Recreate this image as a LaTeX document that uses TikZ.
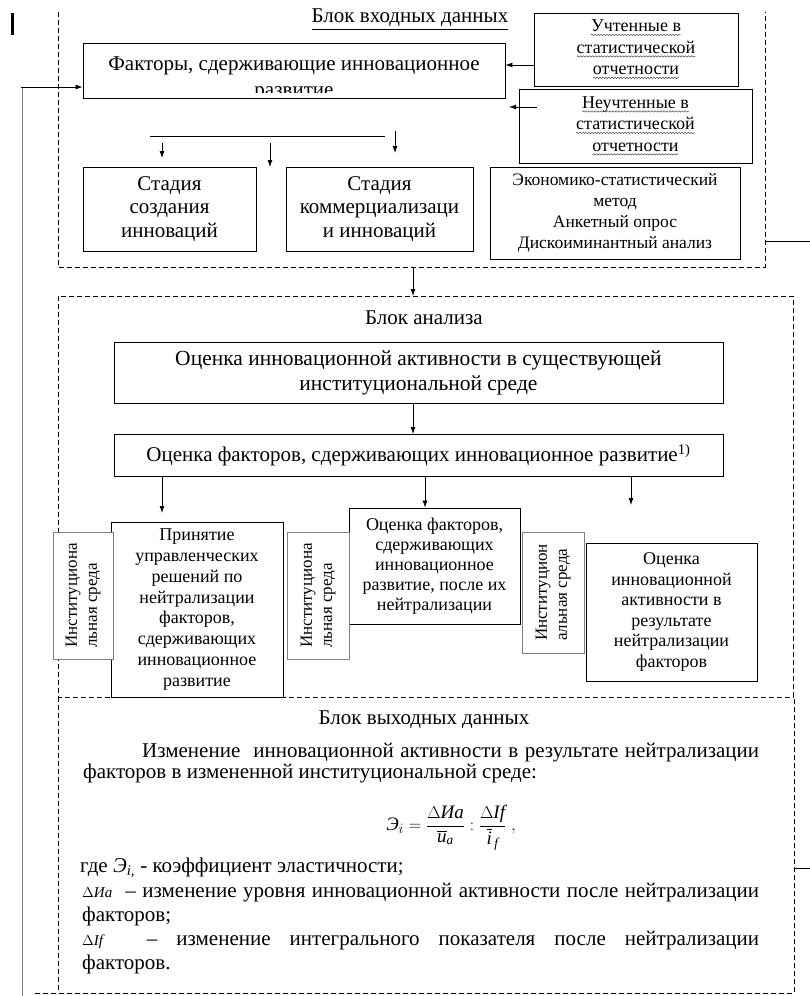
\documentclass[tikz,border=0pt]{standalone}
\usepackage{amsmath}
\usepackage{fontspec}
\setmainfont{Liberation Serif}
\usetikzlibrary{arrows.meta,decorations.pathmorphing}

\newcommand{\fs}[2]{\fontsize{#1}{#2}\selectfont}
\newcommand{\wavy}[1]{\tikz[baseline=(wv.base)]{\node[draw=none, inner sep=0pt, outer sep=0pt,
    minimum width=0pt, minimum height=0pt, anchor=center] (wv) {#1};
  \draw[line width=0.5pt, draw=black!70, decorate, decoration={snake, amplitude=0.7pt, segment length=3pt}]
  ([yshift=-3pt]wv.base west) -- ([yshift=-3pt]wv.base east);}}

\tikzset{
  blk/.style={draw, line width=0.9pt, inner sep=0pt, align=center},
  sidebox/.style={draw=gray, line width=0.6pt, fill=white, inner sep=0pt,
    align=left, rotate=90, font=\fs{17}{20}},
  blockframe/.style={line width=0.8pt, dash pattern=on 5pt off 3pt},
  arr/.style={-{Latex[length=7pt,width=5pt]}, line width=0.8pt},
  sz/.style 2 args={minimum width=#1pt, minimum height=#2pt},
  txt/.style={inner sep=0pt, anchor=base west, font=\fs{21}{24}},
}

\begin{document}
\begin{tikzpicture}[x=1pt,y=-1pt]
\useasboundingbox (0,0) rectangle (810,996);

% frames of the three blocks
\draw[blockframe] (58,12) -- (58,267) -- (765,267) -- (765,12);
\draw[blockframe] (58,296) rectangle (793,697);
\draw[blockframe] (58,697) -- (58,993);
\draw[blockframe] (35,993) -- (794,993) -- (794,697);
\draw[line width=0.9pt] (765,241) -- (810,241);
\draw[line width=0.9pt] (794,868) -- (810,868);
\draw[line width=3pt] (12,13) -- (12,35);

% input block
\node[font=\fs{21}{23}] (intitle) at (410,20) {\underline{Блок входных данных}};
\node[blk, sz={422}{55}] (factors) at (294,70.5) {};
\begin{scope}
\clip (83,43) rectangle (505,92);
\node[inner sep=0pt, anchor=base, font=\fs{21}{23}] (factorsA) at (294,70) {Факторы, сдерживающие инновационное};
\node[inner sep=0pt, anchor=base, font=\fs{21}{23}] (factorsB) at (294,96) {развитие};
\end{scope}
\node[blk, sz={204}{73}, font=\fs{18}{21.5}] (counted) at (636,49.5)
  {\wavy{Учтенные в}\\\wavy{статистической}\\\wavy{отчетности}};
\node[blk, sz={233}{74}, font=\fs{18}{21.5}] (uncounted) at (635.5,126)
  {\wavy{Неучтенные в}\\\wavy{статистической}\\\wavy{отчетности}};
\coordinate (uncountedtail) at (537,107);
\coordinate (uncountedtip) at (509,107);
\draw[arr] (counted.west |- 0,65) -- (factors.east |- 0,65);
\draw[arr] (uncountedtail) -- (uncountedtip);

\coordinate (leftbot) at (21,996);
\coordinate (lefttop) at (21,87);
\draw[draw=gray, line width=0.8pt, double=white, double distance=1.4pt] (leftbot) -- (lefttop);
\draw[arr] (lefttop) -- (factors.west |- lefttop);

\draw[line width=0.9pt] (150,136) -- (385,136);
\foreach \x/\a/\b in {162/143/158, 270/143/167, 395/131/153}
  \draw[arr] (\x,\a) -- (\x,\b);

\node[blk, sz={173}{84}, font=\fs{21}{23.5}] (stagecreate) at (169.5,209)
  {Стадия\\создания\\инноваций};
\node[blk, sz={187}{84}, font=\fs{21}{23.5}] (stagecomm) at (379.5,209)
  {Стадия\\коммерциализаци\\и инноваций};
\node[blk, sz={250}{92}, font=\fs{17.5}{21}] (methods) at (615,213)
  {Экономико-статистический\\метод\\Анкетный опрос\\Дискоиминантный анализ};

\draw[arr] (413,267) -- (413,296);

% analysis block
\node[font=\fs{21}{23}] (antitle) at (424,318) {Блок анализа};
\node[blk, sz={609}{61}, font=\fs{21.5}{25}] (evalactive) at (418.5,372.5)
  {Оценка инновационной активности в существующей\\институциональной среде};
\node[blk, sz={609}{42}, font=\fs{21}{24}] (evalfactors) at (418.5,455)
  {Оценка факторов, сдерживающих инновационное развитие\textsuperscript{1)}};
\draw[arr] (413,403) -- (413,434);

\node[blk, sz={172}{175}, font=\fs{18}{20.8}] (decisions) at (197,609.5)
  {Принятие\\управленческих\\решений по\\нейтрализации\\факторов,\\сдерживающих\\инновационное\\развитие};
\node[blk, sz={171}{116}, font=\fs{18}{20}] (evalafter) at (434.5,566)
  {Оценка факторов,\\сдерживающих\\инновационное\\развитие, после их\\нейтрализации};
\node[blk, sz={171}{138}, font=\fs{18}{20.5}] (evalresult) at (671.5,612)
  {Оценка\\инновационной\\активности в\\результате\\нейтрализации\\факторов};

\node[sidebox, sz={127}{60}] (envA) at (83,595.5) {Институциона\\льная среда};
\node[sidebox, sz={127}{62}] (envB) at (318,595.5) {Институциона\\льная среда};
\node[sidebox, sz={121}{62}] (envC) at (553,592.5) {Институцион\\альная среда};

\coordinate (tipA) at (162,513);
\coordinate (tipC) at (631,505);
\draw[arr] (evalfactors.south -| tipA) -- (tipA);
\draw[arr] (evalfactors.south -| 425,0) -- (evalafter.north -| 425,0);
\draw[arr] (evalfactors.south -| tipC) -- (tipC);

% output block
\node[font=\fs{21}{23}] (outtitle) at (424,720) {Блок выходных данных};
\node[draw, line width=0.5pt, double, double distance=1.2pt, inner sep=0pt, sz={705}{253}] (change) at (419.5,855.5) {};

\node[txt] (lineA) at (142,757) {\makebox[617pt][s]{Изменение\ \ инновационной активности в результате нейтрализации}};
\node[txt] (lineB) at (83,778) {факторов в измененной институциональной среде:};
\node[inner sep=0pt, font=\fs{19}{22}] (formula) at (451,828)
  {$\textit{Э}_{i} = \dfrac{\Delta\textit{Иа}}{\overline{\textit{и}}_{\textit{а}}} : \dfrac{\Delta\textit{If}}{\overline{\textit{i}}_{\,\textit{f}}}\ ,$};
\node[txt] (lineC) at (80,872) {где \textit{Э}\textsubscript{\textit{i,}} - коэффициент эластичности;};
\node[txt] (lineD) at (82,897) {\makebox[677pt][s]{{\fs{15}{18}$\Delta$\textit{Иа}}\ \ – изменение уровня инновационной активности после нейтрализации}};
\node[txt] (lineE) at (82,921) {факторов;};
\node[txt] (lineF) at (82,945) {\makebox[677pt][s]{{\fs{15}{18}$\Delta$\textit{If}}\qquad – изменение интегрального показателя после нейтрализации}};
\node[txt] (lineG) at (82,969) {факторов.};
\end{tikzpicture}
\end{document}
